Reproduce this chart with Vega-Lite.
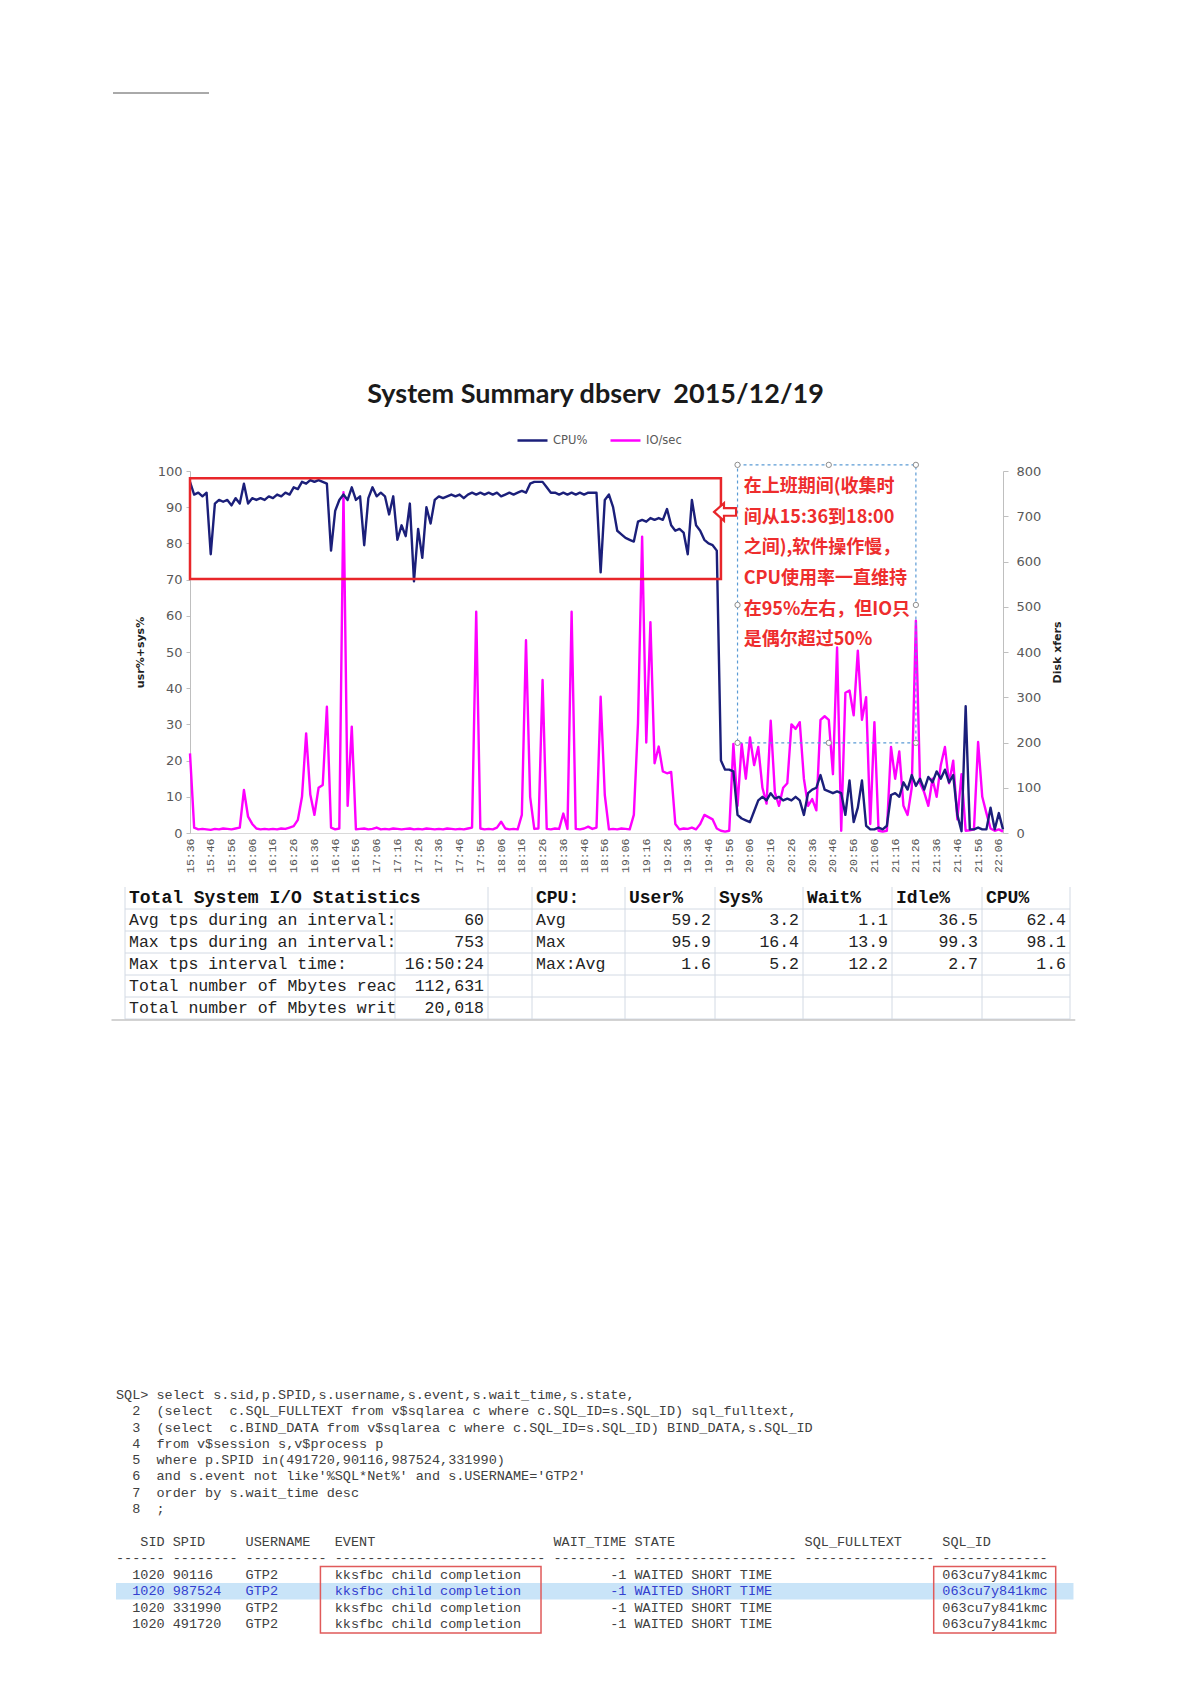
{
  "$schema": "https://vega.github.io/schema/vega-lite/v6.json",
  "width": 1191,
  "height": 1684,
  "autosize": {"type": "none"},
  "padding": 0,
  "background": "#ffffff",
  "config": {"view": {"stroke": null}, "axis": {"grid": false}},
  "datasets": {
    "perf": [
      {"time":"15:36","cpu":97,"io":176},{"time":"15:38","cpu":93.5,"io":12},{"time":"15:40","cpu":94,"io":8},{"time":"15:42","cpu":93,"io":9},
      {"time":"15:44","cpu":94,"io":8},{"time":"15:46","cpu":77,"io":7},{"time":"15:48","cpu":91,"io":9},{"time":"15:50","cpu":92,"io":8},
      {"time":"15:52","cpu":91.5,"io":10},{"time":"15:54","cpu":92,"io":9},{"time":"15:56","cpu":90.5,"io":8},{"time":"15:58","cpu":92.5,"io":10},
      {"time":"16:00","cpu":91,"io":12},{"time":"16:02","cpu":96.5,"io":95},{"time":"16:04","cpu":91,"io":36},{"time":"16:06","cpu":92.5,"io":20},
      {"time":"16:08","cpu":92,"io":10},{"time":"16:10","cpu":92.5,"io":8},{"time":"16:12","cpu":92,"io":9},{"time":"16:14","cpu":93,"io":8},
      {"time":"16:16","cpu":92.5,"io":9},{"time":"16:18","cpu":93.5,"io":8},{"time":"16:20","cpu":93,"io":10},{"time":"16:22","cpu":94,"io":9},
      {"time":"16:24","cpu":93.5,"io":12},{"time":"16:26","cpu":95.5,"io":15},{"time":"16:28","cpu":95,"io":29},{"time":"16:30","cpu":97,"io":80},
      {"time":"16:32","cpu":96.5,"io":220},{"time":"16:34","cpu":97.5,"io":85},{"time":"16:36","cpu":97,"io":40},{"time":"16:38","cpu":97.5,"io":100},
      {"time":"16:40","cpu":97,"io":106},{"time":"16:42","cpu":96.5,"io":279},{"time":"16:44","cpu":78,"io":12},{"time":"16:46","cpu":89,"io":8},
      {"time":"16:48","cpu":92,"io":10},{"time":"16:50","cpu":93.5,"io":753},{"time":"16:52","cpu":92,"io":60},{"time":"16:54","cpu":95.5,"io":235},
      {"time":"16:56","cpu":92,"io":8},{"time":"16:58","cpu":93,"io":9},{"time":"17:00","cpu":79.5,"io":10},{"time":"17:02","cpu":92.5,"io":8},
      {"time":"17:04","cpu":95.5,"io":9},{"time":"17:06","cpu":93,"io":12},{"time":"17:08","cpu":94,"io":8},{"time":"17:10","cpu":93,"io":9},
      {"time":"17:12","cpu":88,"io":8},{"time":"17:14","cpu":93,"io":10},{"time":"17:16","cpu":81,"io":9},{"time":"17:18","cpu":85,"io":8},
      {"time":"17:20","cpu":82,"io":9},{"time":"17:22","cpu":91,"io":10},{"time":"17:24","cpu":69.5,"io":8},{"time":"17:26","cpu":84,"io":9},
      {"time":"17:28","cpu":76,"io":8},{"time":"17:30","cpu":90,"io":10},{"time":"17:32","cpu":85.5,"io":9},{"time":"17:34","cpu":92,"io":8},
      {"time":"17:36","cpu":93,"io":9},{"time":"17:38","cpu":92.5,"io":8},{"time":"17:40","cpu":93,"io":10},{"time":"17:42","cpu":93.5,"io":9},
      {"time":"17:44","cpu":93,"io":8},{"time":"17:46","cpu":93.5,"io":9},{"time":"17:48","cpu":92.5,"io":8},{"time":"17:50","cpu":93.5,"io":10},
      {"time":"17:52","cpu":94,"io":12},{"time":"17:54","cpu":93.5,"io":489},{"time":"17:56","cpu":94,"io":10},{"time":"17:58","cpu":93.5,"io":8},
      {"time":"18:00","cpu":94,"io":9},{"time":"18:02","cpu":93.5,"io":8},{"time":"18:04","cpu":94,"io":12},{"time":"18:06","cpu":93,"io":25},
      {"time":"18:08","cpu":93.5,"io":10},{"time":"18:10","cpu":94,"io":8},{"time":"18:12","cpu":93.5,"io":9},{"time":"18:14","cpu":94,"io":8},
      {"time":"18:16","cpu":94.5,"io":40},{"time":"18:18","cpu":94,"io":426},{"time":"18:20","cpu":96.5,"io":80},{"time":"18:22","cpu":97,"io":9},
      {"time":"18:24","cpu":97,"io":10},{"time":"18:26","cpu":97,"io":338},{"time":"18:28","cpu":95.5,"io":9},{"time":"18:30","cpu":94,"io":8},
      {"time":"18:32","cpu":94,"io":10},{"time":"18:34","cpu":93.5,"io":9},{"time":"18:36","cpu":94,"io":43},{"time":"18:38","cpu":93.5,"io":9},
      {"time":"18:40","cpu":94,"io":489},{"time":"18:42","cpu":93.5,"io":9},{"time":"18:44","cpu":94,"io":8},{"time":"18:46","cpu":93.5,"io":10},
      {"time":"18:48","cpu":94,"io":14},{"time":"18:50","cpu":94,"io":9},{"time":"18:52","cpu":94,"io":12},{"time":"18:54","cpu":72,"io":301},
      {"time":"18:56","cpu":92,"io":84},{"time":"18:58","cpu":93.5,"io":8},{"time":"19:00","cpu":90,"io":9},{"time":"19:02","cpu":83.5,"io":8},
      {"time":"19:04","cpu":82.5,"io":10},{"time":"19:06","cpu":81.5,"io":9},{"time":"19:08","cpu":81,"io":8},{"time":"19:10","cpu":80.5,"io":40},
      {"time":"19:12","cpu":86,"io":242},{"time":"19:14","cpu":86.5,"io":655},{"time":"19:16","cpu":86,"io":200},{"time":"19:18","cpu":87,"io":466},
      {"time":"19:20","cpu":86.5,"io":154},{"time":"19:22","cpu":87,"io":191},{"time":"19:24","cpu":86.5,"io":136},{"time":"19:26","cpu":89.5,"io":132},
      {"time":"19:28","cpu":85,"io":135},{"time":"19:30","cpu":83.5,"io":20},{"time":"19:32","cpu":84,"io":8},{"time":"19:34","cpu":83,"io":10},
      {"time":"19:36","cpu":77,"io":9},{"time":"19:38","cpu":92,"io":12},{"time":"19:40","cpu":85,"io":8},{"time":"19:42","cpu":83.5,"io":20},
      {"time":"19:44","cpu":81,"io":40},{"time":"19:46","cpu":80,"io":35},{"time":"19:48","cpu":79.5,"io":30},{"time":"19:50","cpu":78,"io":10},
      {"time":"19:52","cpu":20,"io":5},{"time":"19:54","cpu":17.5,"io":3},{"time":"19:56","cpu":17.5,"io":5},{"time":"19:58","cpu":17,"io":197},
      {"time":"20:00","cpu":5,"io":60},{"time":"20:02","cpu":4,"io":197},{"time":"20:04","cpu":3.5,"io":120},{"time":"20:06","cpu":3,"io":211},
      {"time":"20:08","cpu":6,"io":150},{"time":"20:10","cpu":9,"io":190},{"time":"20:12","cpu":10,"io":100},{"time":"20:14","cpu":9,"io":65},
      {"time":"20:16","cpu":11,"io":248},{"time":"20:18","cpu":9.5,"io":90},{"time":"20:20","cpu":10,"io":60},{"time":"20:22","cpu":9,"io":100},
      {"time":"20:24","cpu":9.5,"io":110},{"time":"20:26","cpu":9,"io":240},{"time":"20:28","cpu":10,"io":230},{"time":"20:30","cpu":9,"io":245},
      {"time":"20:32","cpu":5,"io":120},{"time":"20:34","cpu":11,"io":60},{"time":"20:36","cpu":12,"io":75},{"time":"20:38","cpu":12.5,"io":50},
      {"time":"20:40","cpu":16,"io":250},{"time":"20:42","cpu":12,"io":258},{"time":"20:44","cpu":11.5,"io":250},{"time":"20:46","cpu":11,"io":130},
      {"time":"20:48","cpu":11.5,"io":410},{"time":"20:50","cpu":11,"io":5},{"time":"20:52","cpu":5,"io":310},{"time":"20:54","cpu":14.5,"io":315},
      {"time":"20:56","cpu":3,"io":260},{"time":"20:58","cpu":7,"io":403},{"time":"21:00","cpu":14.5,"io":250},{"time":"21:02","cpu":2,"io":300},
      {"time":"21:04","cpu":1,"io":20},{"time":"21:06","cpu":1,"io":245},{"time":"21:08","cpu":1.5,"io":5},{"time":"21:10","cpu":1,"io":3},
      {"time":"21:12","cpu":2,"io":5},{"time":"21:14","cpu":10.5,"io":190},{"time":"21:16","cpu":11,"io":120},{"time":"21:18","cpu":10,"io":180},
      {"time":"21:20","cpu":14,"io":60},{"time":"21:22","cpu":12,"io":40},{"time":"21:24","cpu":16,"io":100},{"time":"21:26","cpu":13,"io":469},
      {"time":"21:28","cpu":15,"io":110},{"time":"21:30","cpu":12,"io":90},{"time":"21:32","cpu":15.5,"io":60},{"time":"21:34","cpu":14,"io":120},
      {"time":"21:36","cpu":17,"io":80},{"time":"21:38","cpu":15,"io":150},{"time":"21:40","cpu":17.5,"io":190},{"time":"21:42","cpu":14,"io":110},
      {"time":"21:44","cpu":16,"io":160},{"time":"21:46","cpu":5,"io":30},{"time":"21:48","cpu":0.5,"io":130},{"time":"21:50","cpu":35,"io":5},
      {"time":"21:52","cpu":1,"io":6},{"time":"21:54","cpu":1,"io":8},{"time":"21:56","cpu":1.5,"io":201},{"time":"21:58","cpu":1,"io":80},
      {"time":"22:00","cpu":1,"io":44},{"time":"22:02","cpu":7,"io":10},{"time":"22:04","cpu":1,"io":5},{"time":"22:06","cpu":5.5,"io":8},
      {"time":"22:08","cpu":1,"io":3}
    ],
    "tableHead": [
      {"r":0,"c":0,"t":"Total System I/O Statistics"},
      {"r":0,"c":3,"t":"CPU:"},{"r":0,"c":4,"t":"User%"},{"r":0,"c":5,"t":"Sys%"},
      {"r":0,"c":6,"t":"Wait%"},{"r":0,"c":7,"t":"Idle%"},{"r":0,"c":8,"t":"CPU%"}
    ],
    "tableLeft": [
      {"r":1,"c":0,"t":"Avg tps during an interval:"},
      {"r":2,"c":0,"t":"Max tps during an interval:"},
      {"r":3,"c":0,"t":"Max tps interval time:"},
      {"r":4,"c":0,"t":"Total number of Mbytes reac"},
      {"r":5,"c":0,"t":"Total number of Mbytes writ"},
      {"r":1,"c":3,"t":"Avg"},{"r":2,"c":3,"t":"Max"},{"r":3,"c":3,"t":"Max:Avg"}
    ],
    "tableRight": [
      {"r":1,"c":1,"t":"60"},{"r":2,"c":1,"t":"753"},{"r":3,"c":1,"t":"16:50:24"},{"r":4,"c":1,"t":"112,631"},{"r":5,"c":1,"t":"20,018"},
      {"r":1,"c":4,"t":"59.2"},{"r":1,"c":5,"t":"3.2"},{"r":1,"c":6,"t":"1.1"},{"r":1,"c":7,"t":"36.5"},{"r":1,"c":8,"t":"62.4"},
      {"r":2,"c":4,"t":"95.9"},{"r":2,"c":5,"t":"16.4"},{"r":2,"c":6,"t":"13.9"},{"r":2,"c":7,"t":"99.3"},{"r":2,"c":8,"t":"98.1"},
      {"r":3,"c":4,"t":"1.6"},{"r":3,"c":5,"t":"5.2"},{"r":3,"c":6,"t":"12.2"},{"r":3,"c":7,"t":"2.7"},{"r":3,"c":8,"t":"1.6"}
    ],
    "hlines": [{"b":1},{"b":2},{"b":3},{"b":4},{"b":5},{"b":6}],
    "vlines": [{"c":0,"top":0},{"c":1,"top":1},{"c":2,"top":0},{"c":3,"top":0},{"c":4,"top":0},{"c":5,"top":0},{"c":6,"top":0},{"c":7,"top":0},{"c":8,"top":0},{"c":9,"top":0}],
    "sqlLines": [
      {"n":1,"t":"SQL>\u00a0select\u00a0s.sid,p.SPID,s.username,s.event,s.wait_time,s.state,"},
      {"n":2,"t":"\u200b\u00a0\u00a02\u00a0\u00a0(select\u00a0\u00a0c.SQL_FULLTEXT\u00a0from\u00a0v$sqlarea\u00a0c\u00a0where\u00a0c.SQL_ID=s.SQL_ID)\u00a0sql_fulltext,"},
      {"n":3,"t":"\u200b\u00a0\u00a03\u00a0\u00a0(select\u00a0\u00a0c.BIND_DATA\u00a0from\u00a0v$sqlarea\u00a0c\u00a0where\u00a0c.SQL_ID=s.SQL_ID)\u00a0BIND_DATA,s.SQL_ID"},
      {"n":4,"t":"\u200b\u00a0\u00a04\u00a0\u00a0from\u00a0v$session\u00a0s,v$process\u00a0p"},
      {"n":5,"t":"\u200b\u00a0\u00a05\u00a0\u00a0where\u00a0p.SPID\u00a0in(491720,90116,987524,331990)"},
      {"n":6,"t":"\u200b\u00a0\u00a06\u00a0\u00a0and\u00a0s.event\u00a0not\u00a0like'%SQL*Net%'\u00a0and\u00a0s.USERNAME='GTP2'"},
      {"n":7,"t":"\u200b\u00a0\u00a07\u00a0\u00a0order\u00a0by\u00a0s.wait_time\u00a0desc"},
      {"n":8,"t":"\u200b\u00a0\u00a08\u00a0\u00a0;"}
    ],
    "resultLines": [
      {"line":0,"t":"\u200b\u00a0\u00a0\u00a0SID\u00a0SPID\u00a0\u00a0\u00a0\u00a0\u00a0USERNAME\u00a0\u00a0\u00a0EVENT\u00a0\u00a0\u00a0\u00a0\u00a0\u00a0\u00a0\u00a0\u00a0\u00a0\u00a0\u00a0\u00a0\u00a0\u00a0\u00a0\u00a0\u00a0\u00a0\u00a0\u00a0\u00a0WAIT_TIME\u00a0STATE\u00a0\u00a0\u00a0\u00a0\u00a0\u00a0\u00a0\u00a0\u00a0\u00a0\u00a0\u00a0\u00a0\u00a0\u00a0\u00a0SQL_FULLTEXT\u00a0\u00a0\u00a0\u00a0\u00a0SQL_ID"},
      {"line":1,"t":"------\u00a0--------\u00a0----------\u00a0--------------------------\u00a0---------\u00a0--------------------\u00a0----------------\u00a0-------------"},
      {"line":2,"t":"\u200b\u00a0\u00a01020\u00a090116\u00a0\u00a0\u00a0\u00a0GTP2\u00a0\u00a0\u00a0\u00a0\u00a0\u00a0\u00a0kksfbc\u00a0child\u00a0completion\u00a0\u00a0\u00a0\u00a0\u00a0\u00a0\u00a0\u00a0\u00a0\u00a0\u00a0-1\u00a0WAITED\u00a0SHORT\u00a0TIME\u00a0\u00a0\u00a0\u00a0\u00a0\u00a0\u00a0\u00a0\u00a0\u00a0\u00a0\u00a0\u00a0\u00a0\u00a0\u00a0\u00a0\u00a0\u00a0\u00a0\u00a0063cu7y841kmc"},
      {"line":3,"t":"\u200b\u00a0\u00a01020\u00a0987524\u00a0\u00a0\u00a0GTP2\u00a0\u00a0\u00a0\u00a0\u00a0\u00a0\u00a0kksfbc\u00a0child\u00a0completion\u00a0\u00a0\u00a0\u00a0\u00a0\u00a0\u00a0\u00a0\u00a0\u00a0\u00a0-1\u00a0WAITED\u00a0SHORT\u00a0TIME\u00a0\u00a0\u00a0\u00a0\u00a0\u00a0\u00a0\u00a0\u00a0\u00a0\u00a0\u00a0\u00a0\u00a0\u00a0\u00a0\u00a0\u00a0\u00a0\u00a0\u00a0063cu7y841kmc"},
      {"line":4,"t":"\u200b\u00a0\u00a01020\u00a0331990\u00a0\u00a0\u00a0GTP2\u00a0\u00a0\u00a0\u00a0\u00a0\u00a0\u00a0kksfbc\u00a0child\u00a0completion\u00a0\u00a0\u00a0\u00a0\u00a0\u00a0\u00a0\u00a0\u00a0\u00a0\u00a0-1\u00a0WAITED\u00a0SHORT\u00a0TIME\u00a0\u00a0\u00a0\u00a0\u00a0\u00a0\u00a0\u00a0\u00a0\u00a0\u00a0\u00a0\u00a0\u00a0\u00a0\u00a0\u00a0\u00a0\u00a0\u00a0\u00a0063cu7y841kmc"},
      {"line":5,"t":"\u200b\u00a0\u00a01020\u00a0491720\u00a0\u00a0\u00a0GTP2\u00a0\u00a0\u00a0\u00a0\u00a0\u00a0\u00a0kksfbc\u00a0child\u00a0completion\u00a0\u00a0\u00a0\u00a0\u00a0\u00a0\u00a0\u00a0\u00a0\u00a0\u00a0-1\u00a0WAITED\u00a0SHORT\u00a0TIME\u00a0\u00a0\u00a0\u00a0\u00a0\u00a0\u00a0\u00a0\u00a0\u00a0\u00a0\u00a0\u00a0\u00a0\u00a0\u00a0\u00a0\u00a0\u00a0\u00a0\u00a0063cu7y841kmc"}
    ]
  },
  "layer": [
    {
      "data": {"name": "perf"},
      "layer": [
        {
          "mark": {"type": "line", "strokeWidth": 2.4, "strokeJoin": "round"},
          "encoding": {
            "x": {
              "field": "time", "type": "ordinal",
              "scale": {"type": "point", "range": [190, 1003], "padding": 0},
              "axis": {
                "orient": "bottom", "offset": -851,
                "values": ["15:36","15:46","15:56","16:06","16:16","16:26","16:36","16:46","16:56","17:06","17:16","17:26","17:36","17:46","17:56","18:06","18:16","18:26","18:36","18:46","18:56","19:06","19:16","19:26","19:36","19:46","19:56","20:06","20:16","20:26","20:36","20:46","20:56","21:06","21:16","21:26","21:36","21:46","21:56","22:06"],
                "labelAngle": -90, "labelFont": "Liberation Mono", "labelFontSize": 11.5, "labelColor": "#555555",
                "labelPadding": 5, "labelOverlap": false, "ticks": false, "domainColor": "#d9d9d9", "title": null
              }
            },
            "y": {
              "field": "io", "type": "quantitative",
              "scale": {"domain": [0, 800], "range": [833, 471], "nice": false, "zero": false},
              "axis": {
                "orient": "right", "offset": -188, "values": [0,100,200,300,400,500,600,700,800],
                "labelFont": "DejaVu Sans", "labelFontSize": 13, "labelColor": "#595959", "labelPadding": 8,
                "tickSize": 5, "tickColor": "#bfbfbf", "domainColor": "#bfbfbf",
                "title": "Disk xfers", "titleAngle": 270, "titleBaseline": "top", "titleFont": "DejaVu Sans",
                "titleFontSize": 11, "titleFontWeight": "bold", "titleColor": "#222222", "titlePadding": 11
              }
            },
            "color": {
              "datum": "IO/sec", "type": "nominal",
              "scale": {"domain": ["CPU%", "IO/sec"], "range": ["#1b1f7a", "#ff00ff"]},
              "legend": {
                "orient": "none", "legendX": 516, "legendY": 424, "direction": "horizontal", "title": null,
                "symbolType": "stroke", "symbolSize": 900, "symbolStrokeWidth": 2.5,
                "labelFont": "DejaVu Sans", "labelFontSize": 11.5, "labelColor": "#595959",
                "labelOffset": 4, "columnPadding": 17, "padding": 0
              }
            }
          }
        },
        {
          "layer": [
            {
              "mark": {"type": "line", "strokeWidth": 2.4, "strokeJoin": "round"},
              "encoding": {
                "x": {"field": "time", "type": "ordinal"},
                "y": {
                  "field": "cpu", "type": "quantitative",
                  "scale": {"domain": [0, 100], "range": [833, 471], "nice": false, "zero": false},
                  "axis": {
                    "orient": "left", "offset": -190, "values": [0,10,20,30,40,50,60,70,80,90,100],
                    "labelFont": "DejaVu Sans", "labelFontSize": 13, "labelColor": "#595959", "labelPadding": 4,
                    "tickSize": 4, "tickColor": "#bfbfbf", "domainColor": "#bfbfbf",
                    "title": "usr%+sys%", "titleFont": "DejaVu Sans", "titleFontSize": 11,
                    "titleFontWeight": "bold", "titleColor": "#222222", "titlePadding": 12
                  }
                },
                "color": {"datum": "CPU%", "type": "nominal"}
              }
            },
            {
              "data": {"values": [{"start": "15:36", "end": "19:52", "top": 98, "bottom": 70.2}]},
              "mark": {"type": "rect", "filled": false, "color": "#e8262a", "strokeWidth": 2.5},
              "encoding": {
                "x": {"field": "start", "type": "ordinal"}, "x2": {"field": "end"},
                "y": {"field": "top", "type": "quantitative"}, "y2": {"field": "bottom"}
              }
            },
            {
              "data": {"values": [{"start": "20:00", "end": "21:26", "top": 101.7, "bottom": 24.9}]},
              "mark": {"type": "rect", "filled": false, "color": "#5b9bd5", "strokeWidth": 1.2, "strokeDash": [3, 3]},
              "encoding": {
                "x": {"field": "start", "type": "ordinal"}, "x2": {"field": "end"},
                "y": {"field": "top", "type": "quantitative"}, "y2": {"field": "bottom"}
              }
            },
            {
              "data": {"values": [
                {"time": "20:00", "v": 101.7}, {"time": "20:44", "v": 101.7}, {"time": "21:26", "v": 101.7},
                {"time": "20:00", "v": 63}, {"time": "21:26", "v": 63},
                {"time": "20:00", "v": 24.9}, {"time": "20:44", "v": 24.9}, {"time": "21:26", "v": 24.9}
              ]},
              "mark": {"type": "point", "shape": "circle", "size": 28, "filled": true, "fill": "#ffffff", "stroke": "#8c8c8c", "strokeWidth": 1, "opacity": 1},
              "encoding": {
                "x": {"field": "time", "type": "ordinal"},
                "y": {"field": "v", "type": "quantitative"}
              }
            },
            {
              "data": {"values": [{"at": "20:02", "v": 98, "note": "在上班期间(收集时\n间从15:36到18:00\n之间),软件操作慢，\nCPU使用率一直维持\n在95%左右，但IO只\n是偶尔超过50%"}]},
              "mark": {"type": "text", "lineBreak": "\n", "lineHeight": 30.6, "align": "left", "baseline": "top", "dx": 2,
                       "font": "Noto Sans CJK SC", "fontWeight": "bold", "fontSize": 18, "color": "#ee2d2d"},
              "encoding": {
                "x": {"field": "at", "type": "ordinal"},
                "y": {"field": "v", "type": "quantitative"},
                "text": {"field": "note", "type": "nominal"}
              }
            },
            {
              "data": {"values": [{"at": "19:54", "v": 88.7}]},
              "mark": {"type": "point", "shape": "M-1,0L-0.1,-0.8L-0.1,-0.35L1,-0.35L1,0.35L-0.1,0.35L-0.1,0.8Z",
                       "size": 484, "filled": true, "fill": "#ffffff", "stroke": "#e8262a", "strokeWidth": 2.2, "opacity": 1},
              "encoding": {
                "x": {"field": "at", "type": "ordinal"},
                "y": {"field": "v", "type": "quantitative"}
              }
            }
          ]
        }
      ],
      "resolve": {"scale": {"y": "independent"}}
    },
    {
      "data": {"values": [{"label": "System Summary dbserv\u00a0\u00a02015/12/19"}]},
      "layer": [
        {
          "mark": {"type": "text", "font": "Lato", "fontWeight": "bold", "fontSize": 27, "color": "#1a1a1a", "align": "center", "baseline": "middle"},
          "encoding": {
            "text": {"field": "label", "type": "nominal"},
            "x": {"datum": 595.5, "type": "quantitative", "scale": {"domain": [0, 1191], "range": [0, 1191], "nice": false, "zero": false}, "axis": null},
            "y": {"datum": 395, "type": "quantitative", "scale": {"domain": [0, 1684], "range": [0, 1684], "nice": false, "zero": false}, "axis": null}
          }
        },
        {
          "mark": {"type": "rule", "color": "#555555", "strokeWidth": 1},
          "encoding": {
            "x": {"datum": 113, "type": "quantitative", "axis": null},
            "x2": {"datum": 209},
            "y": {"datum": 93, "type": "quantitative", "axis": null}
          }
        }
      ]
    },
    {
      "layer": [
        {
          "data": {"name": "hlines"},
          "mark": {"type": "rule", "color": "#d3dae4", "strokeWidth": 1},
          "encoding": {
            "y": {"field": "b", "type": "quantitative", "scale": {"domain": [0, 6], "range": [887, 1019], "nice": false, "zero": false}, "axis": null},
            "x": {"datum": 0, "type": "quantitative", "scale": {"domain": [0,1,2,3,4,5,6,7,8,9], "range": [125,395,488,532,625,715,803,892,982,1070], "nice": false, "zero": false}, "axis": null},
            "x2": {"datum": 9}
          }
        },
        {
          "data": {"name": "vlines"},
          "mark": {"type": "rule", "color": "#d3dae4", "strokeWidth": 1},
          "encoding": {
            "x": {"field": "c", "type": "quantitative", "axis": null},
            "y": {"field": "top", "type": "quantitative", "axis": null},
            "y2": {"datum": 6}
          }
        },
        {
          "data": {"values": [{"edge": "bottom"}]},
          "mark": {"type": "rule", "color": "#c4c4c4", "strokeWidth": 1.5},
          "encoding": {
            "x": {"datum": -0.05, "type": "quantitative", "axis": null},
            "x2": {"datum": 9.06},
            "y": {"datum": 6.05, "type": "quantitative", "axis": null}
          }
        }
      ]
    },
    {
      "data": {"name": "tableHead"},
      "mark": {"type": "text", "font": "Liberation Mono", "fontWeight": "bold", "fontSize": 18, "color": "#111111", "align": "left", "baseline": "middle", "dx": 4},
      "encoding": {
        "text": {"field": "t", "type": "nominal"},
        "x": {"field": "c", "type": "quantitative", "scale": {"domain": [0,1,2,3,4,5,6,7,8,9], "range": [125,395,488,532,625,715,803,892,982,1070], "nice": false, "zero": false}, "axis": null},
        "y": {"field": "r", "type": "quantitative", "scale": {"domain": [0, 5], "range": [898, 1008], "nice": false, "zero": false}, "axis": null}
      }
    },
    {
      "data": {"name": "tableLeft"},
      "mark": {"type": "text", "font": "Liberation Mono", "fontSize": 16.5, "color": "#222222", "align": "left", "baseline": "middle", "dx": 4},
      "encoding": {
        "text": {"field": "t", "type": "nominal"},
        "x": {"field": "c", "type": "quantitative", "scale": {"domain": [0,1,2,3,4,5,6,7,8,9], "range": [125,395,488,532,625,715,803,892,982,1070], "nice": false, "zero": false}, "axis": null},
        "y": {"field": "r", "type": "quantitative", "scale": {"domain": [0, 5], "range": [898, 1008], "nice": false, "zero": false}, "axis": null}
      }
    },
    {
      "data": {"name": "tableRight"},
      "mark": {"type": "text", "font": "Liberation Mono", "fontSize": 16.5, "color": "#222222", "align": "right", "baseline": "middle", "dx": -4},
      "encoding": {
        "text": {"field": "t", "type": "nominal"},
        "x": {"field": "c", "type": "quantitative", "scale": {"domain": [0,1,2,3,4,5,6,7,8], "range": [395,488,532,625,715,803,892,982,1070], "nice": false, "zero": false}, "axis": null},
        "y": {"field": "r", "type": "quantitative", "scale": {"domain": [0, 5], "range": [898, 1008], "nice": false, "zero": false}, "axis": null}
      }
    },
    {
      "data": {"name": "sqlLines"},
      "mark": {"type": "text", "font": "Liberation Mono", "fontSize": 13.5, "color": "#404040", "align": "left", "baseline": "middle"},
      "encoding": {
        "text": {"field": "t", "type": "nominal"},
        "x": {"datum": 0, "type": "quantitative", "scale": {"domain": [0, 100], "range": [116, 924], "nice": false, "zero": false}, "axis": null},
        "y": {"field": "n", "type": "quantitative", "scale": {"domain": [1, 8], "range": [1395, 1509], "nice": false, "zero": false}, "axis": null}
      }
    },
    {
      "layer": [
        {
          "data": {"values": [{"spid": "987524"}]},
          "mark": {"type": "rect", "color": "#c9e4f8"},
          "encoding": {
            "x": {"datum": 0, "type": "quantitative", "scale": {"domain": [0, 100], "range": [116, 924], "nice": false, "zero": false}, "axis": null},
            "x2": {"datum": 118.5},
            "y": {"datum": 2.5, "type": "quantitative", "scale": {"domain": [0, 5], "range": [1542, 1624], "nice": false, "zero": false}, "axis": null},
            "y2": {"datum": 3.5}
          }
        },
        {
          "data": {"name": "resultLines"},
          "mark": {"type": "text", "font": "Liberation Mono", "fontSize": 13.5, "align": "left", "baseline": "middle"},
          "encoding": {
            "text": {"field": "t", "type": "nominal"},
            "x": {"datum": 0, "type": "quantitative", "axis": null},
            "y": {"field": "line", "type": "quantitative", "axis": null},
            "color": {"condition": {"test": "datum.line == 3", "value": "#3340d0"}, "value": "#404040"}
          }
        },
        {
          "data": {"values": [{"box": "event"}]},
          "mark": {"type": "rect", "filled": false, "color": "#e05a5a", "strokeWidth": 1.5},
          "encoding": {
            "x": {"datum": 25.3, "type": "quantitative", "axis": null},
            "x2": {"datum": 52.6},
            "y": {"datum": 1.5, "type": "quantitative", "axis": null},
            "y2": {"datum": 5.55}
          }
        },
        {
          "data": {"values": [{"box": "sql_id"}]},
          "mark": {"type": "rect", "filled": false, "color": "#e05a5a", "strokeWidth": 1.5},
          "encoding": {
            "x": {"datum": 101.2, "type": "quantitative", "axis": null},
            "x2": {"datum": 116.3},
            "y": {"datum": 1.5, "type": "quantitative", "axis": null},
            "y2": {"datum": 5.55}
          }
        }
      ]
    }
  ],
  "resolve": {"scale": {"x": "independent", "y": "independent"}}
}
